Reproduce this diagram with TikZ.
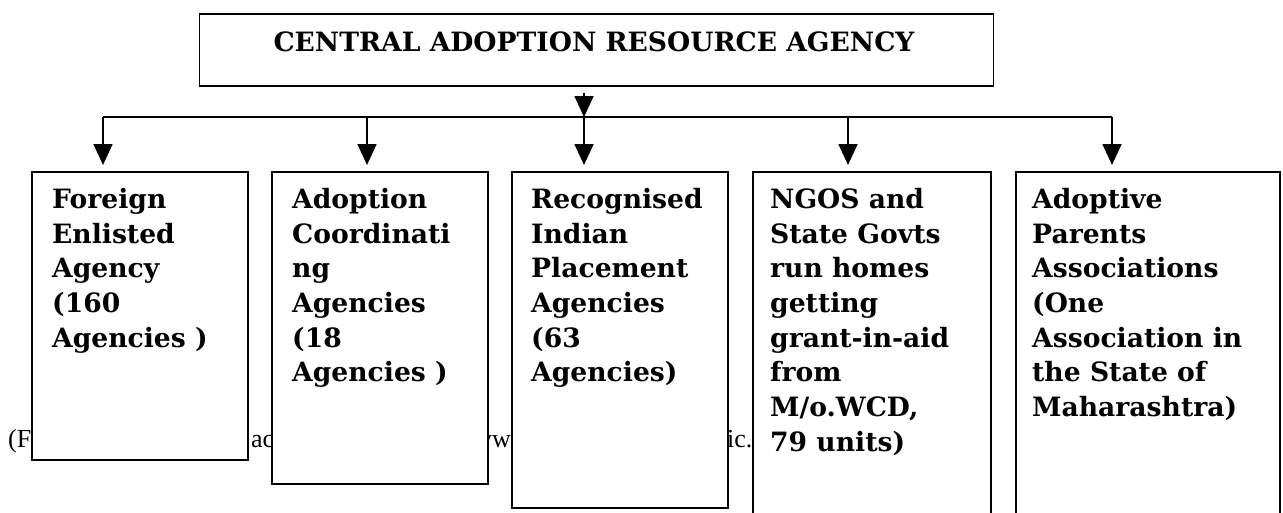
\documentclass[tikz,border=0pt]{standalone}
\usepackage{fontspec}
\setmainfont{DejaVu Serif}
\newfontfamily\srcfont{Liberation Serif}
\usetikzlibrary{arrows.meta}
\begin{document}
\begin{tikzpicture}[x=1pt,y=-1pt,
  boxst/.style={draw, line width=1.7pt, fill=white, rectangle, anchor=north west, inner sep=0pt},
  txt/.style={anchor=north west, inner sep=0pt, align=left, font=\fontsize{26.6pt}{34.7pt}\selectfont\bfseries},
  titletxt/.style={anchor=base, inner sep=0pt, font=\fontsize{26.6pt}{32pt}\selectfont\bfseries},
  srctxt/.style={anchor=base west, inner sep=0pt, font=\fontsize{26pt}{30pt}\srcfont},
  arr/.style={line width=1.7pt, -{Triangle[length=21pt,width=19pt]}},
  conn/.style={line width=1.7pt}]
\useasboundingbox[fill=white] (0,0) rectangle (1283,512);
% partly hidden source line
\node[srctxt] (s1) at (8,447) {(F};
\node[srctxt] (s2) at (251,447) {ac};
\node[srctxt] (s3) at (479,447) {yw};
\node[srctxt] (s4) at (727,447) {ic.};
% top box
\node[boxst, minimum width=794pt, minimum height=72pt] (top) at (198.5,13) {};
\node[titletxt] (toptext) at (594,51) {CENTRAL ADOPTION RESOURCE AGENCY};
% lower boxes
\node[boxst, minimum width=216pt, minimum height=288pt] (b1) at (31,171) {};
\node[boxst, minimum width=216pt, minimum height=312pt] (b2) at (271,171) {};
\node[boxst, minimum width=216pt, minimum height=336pt] (b3) at (511,171) {};
\node[boxst, minimum width=238pt, minimum height=360pt] (b4) at (752,171) {};
\node[boxst, minimum width=264pt, minimum height=360pt] (b5) at (1015,171) {};
\node[txt] (t1txt) at (52,184) {\strut Foreign\\Enlisted\\Agency\\(160\\Agencies )};
\node[txt] (t2txt) at (292,184) {\strut Adoption\\Coordinati\\ng\\Agencies\\(18\\Agencies )};
\node[txt] (t3txt) at (531,184) {\strut Recognised\\Indian\\Placement\\Agencies\\(63\\Agencies)};
\node[txt] (t4txt) at (770,184) {\strut NGOS and\\State Govts\\run homes\\getting\\grant-in-aid\\from\\M/o.WCD,\\79 units)};
\node[txt] (t5txt) at (1032,184) {\strut Adoptive\\Parents\\Associations\\(One\\Association in\\the State of\\Maharashtra)};
% connectors
\coordinate (c0) at (584,93);
\coordinate (j) at (584,117);
\coordinate (h1) at (103,117);
\coordinate (h2) at (367,117);
\coordinate (h4) at (848,117);
\coordinate (h5) at (1112,117);
\coordinate (a1) at (103,165);
\coordinate (a2) at (367,165);
\coordinate (a3) at (584,165);
\coordinate (a4) at (848,165);
\coordinate (a5) at (1112,165);
\draw[conn] (h1) -- (h5);
\draw[arr] (c0) -- (j);
\draw[arr] (h1) -- (a1);
\draw[arr] (h2) -- (a2);
\draw[arr] (j) -- (a3);
\draw[arr] (h4) -- (a4);
\draw[arr] (h5) -- (a5);
\end{tikzpicture}
\end{document}
